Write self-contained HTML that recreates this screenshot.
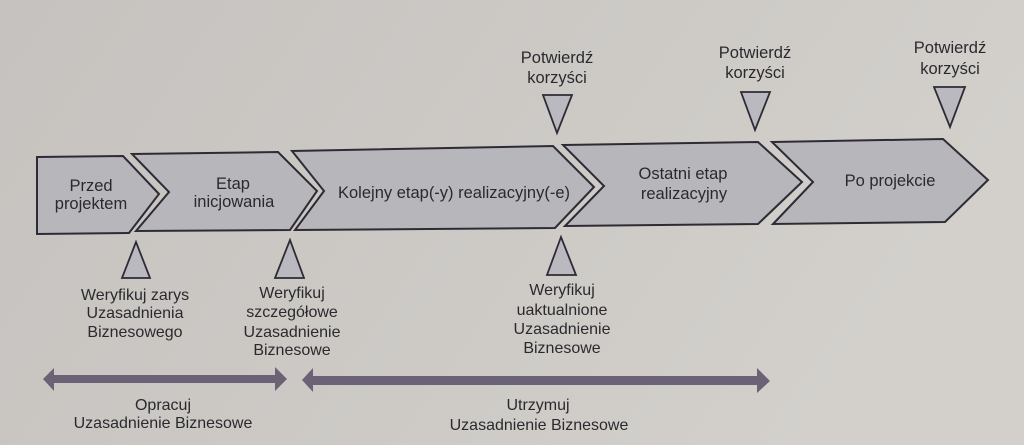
<!DOCTYPE html>
<html><head><meta charset="utf-8"><style>
html,body{margin:0;padding:0;width:1024px;height:445px;overflow:hidden}
body{background:#cbc8c5}
svg{display:block}
text{font-family:"Liberation Sans",sans-serif;fill:#2a2a2e;text-anchor:middle}
</style></head><body>
<svg width="1024" height="445" viewBox="0 0 1024 445" xmlns="http://www.w3.org/2000/svg">
<defs>
<linearGradient id="bg" x1="0" y1="0" x2="1" y2="0.3">
<stop offset="0" stop-color="#c6c2bf"/>
<stop offset="0.6" stop-color="#cdcac6"/>
<stop offset="1" stop-color="#d3d0cc"/>
</linearGradient>
</defs>
<rect width="1024" height="445" fill="url(#bg)"/>
<g fill="#b7b6bb" stroke="#2f2b35" stroke-width="2" stroke-linejoin="miter">
<polygon points="37,157 123,156 159,194 129,233 37,234"/>
<polygon points="132,154 278,152 317,191 290,230 136,231 169,192"/>
<polygon points="292,151 553,146 594,187 555,228 295,230 324,191"/>
<polygon points="563,145 758,142 802,182 758,224 565,226 604,186"/>
<polygon points="772,142 943,139 988,180 945,222 773,224 813,182"/>
</g>
<g fill="#bab9c0" stroke="#2f2b35" stroke-width="1.8">
<polygon points="543,95 572,95 557,133"/>
<polygon points="741,92 770,92 755,130"/>
<polygon points="934,87 965,87 950,127"/>
<polygon points="136,242 122,278 150,278"/>
<polygon points="290,240 275,278 304,278"/>
<polygon points="561,237 547,275 576,275"/>
</g>
<g fill="#6b6275">
<polygon points="43,379 54,368 54,375 275,375 275,367 287,379 275,391 275,383 54,383 54,391"/>
<polygon points="302,380 313,368 313,376 757,376 757,368 770,381 757,393 757,385 313,385 313,392"/>
</g>
<g font-size="16.5">
<text x="91" y="191">Przed</text>
<text x="91" y="209">projektem</text>
<text x="233" y="189">Etap</text>
<text x="234" y="207">inicjowania</text>
<text x="454" y="198">Kolejny etap(-y) realizacyjny(-e)</text>
<text x="683" y="179">Ostatni etap</text>
<text x="684" y="199">realizacyjny</text>
<text x="890" y="186">Po projekcie</text>
</g>
<g font-size="16.5">
<text x="557" y="63">Potwierdź</text>
<text x="557" y="83">korzyści</text>
<text x="755" y="58">Potwierdź</text>
<text x="755" y="78">korzyści</text>
<text x="950" y="53">Potwierdź</text>
<text x="950" y="74">korzyści</text>
</g>
<g font-size="16">
<text x="135" y="300">Weryfikuj zarys</text>
<text x="135" y="318">Uzasadnienia</text>
<text x="135" y="337">Biznesowego</text>
<text x="292" y="298">Weryfikuj</text>
<text x="292" y="317">szczegółowe</text>
<text x="292" y="337">Uzasadnienie</text>
<text x="292" y="355">Biznesowe</text>
<text x="562" y="295">Weryfikuj</text>
<text x="562" y="315">uaktualnione</text>
<text x="562" y="334">Uzasadnienie</text>
<text x="562" y="353">Biznesowe</text>
<text x="163" y="410">Opracuj</text>
<text x="163" y="428">Uzasadnienie Biznesowe</text>
<text x="538" y="410">Utrzymuj</text>
<text x="539" y="430">Uzasadnienie Biznesowe</text>
</g>
</svg>
</body></html>
